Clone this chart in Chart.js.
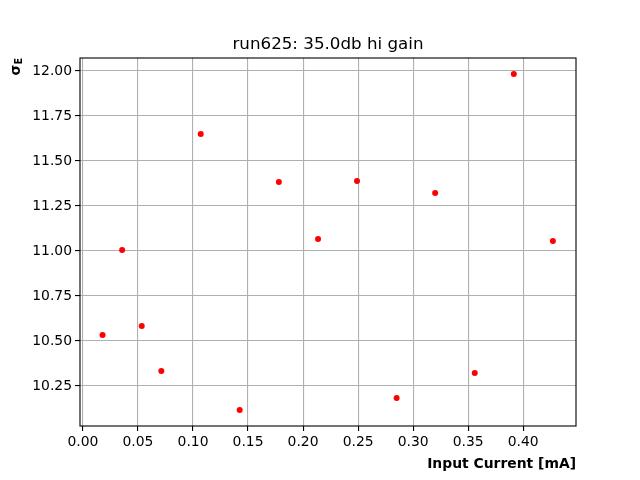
<!DOCTYPE html>
<html>
<head>
<meta charset="utf-8">
<script src="https://cdn.jsdelivr.net/npm/chart.js@4.4.0/dist/chart.umd.min.js"></script>
<style>
  html, body { margin: 0; padding: 0; background: #fff; }
  #wrap { width: 640px; height: 480px; }
</style>
</head>
<body>
<div id="wrap"><canvas id="c" width="640" height="480"></canvas></div>
<script>
const currents = [0.0178, 0.0356, 0.0534, 0.0712, 0.1070, 0.1424, 0.1780, 0.2136, 0.2490, 0.2850, 0.3200, 0.3560, 0.3915, 0.4270];
const sigmaE = [10.533, 11.006, 10.583, 10.333, 11.650, 10.117, 11.383, 11.067, 11.389, 10.183, 11.322, 10.322, 11.983, 11.056];
const xTicks = [0.00, 0.05, 0.10, 0.15, 0.20, 0.25, 0.30, 0.35, 0.40];
const yTicks = [10.25, 10.50, 10.75, 11.00, 11.25, 11.50, 11.75, 12.00];

const FONT = "'DejaVu Sans', sans-serif";

const labels = {
    id: 'labels',
    afterDraw(chart) {
        const ctx = chart.ctx;
        const a = chart.chartArea;
        ctx.save();
        ctx.fillStyle = '#000';
        // title
        ctx.font = '16.7px ' + FONT;
        ctx.textAlign = 'center';
        ctx.textBaseline = 'alphabetic';
        ctx.fillText('run625: 35.0db hi gain', (a.left + a.right) / 2, 49);
        // x label
        ctx.font = 'bold 13.9px ' + FONT;
        ctx.textAlign = 'right';
        ctx.fillText('Input Current [mA]', a.right, 468);
        // y label, rotated
        ctx.translate(20, a.top);
        ctx.rotate(-Math.PI / 2);
        ctx.textAlign = 'left';
        ctx.font = 'bold 9.7px ' + FONT;
        const wE = ctx.measureText('E').width;
        ctx.fillText('E', -wE, 2);
        ctx.font = 'bold 13.9px ' + FONT;
        const wS = ctx.measureText('σ').width;
        ctx.fillText('σ', -wE - wS, 0);
        ctx.restore();
        // frame
        ctx.save();
        ctx.strokeStyle = '#000';
        ctx.lineWidth = 1.1;
        ctx.strokeRect(a.left, a.top, a.right - a.left, a.bottom - a.top);
        ctx.restore();
    }
};

new Chart(document.getElementById('c').getContext('2d'), {
    type: 'scatter',
    data: {
        datasets: [{
            data: currents.map((x, i) => ({x: x, y: sigmaE[i]})),
            backgroundColor: '#ff0000',
            borderColor: '#ff0000',
            pointRadius: 3,
            borderWidth: 0
        }]
    },
    options: {
        responsive: false,
        animation: false,
        layout: { padding: { left: 0, right: 64, top: 58, bottom: 0 } },
        plugins: { legend: { display: false }, tooltip: { enabled: false } },
        scales: {
            x: {
                type: 'linear',
                min: -0.0027,
                max: 0.448,
                afterBuildTicks: s => { s.ticks = xTicks.map(v => ({value: v})); },
                afterFit: s => { s.height = 54; },
                grid: { color: '#b0b0b0', lineWidth: 1.1, tickLength: 5, tickColor: '#000' },
                border: { display: false },
                ticks: {
                    color: '#000',
                    font: { family: FONT, size: 13.9 },
                    padding: 3,
                    maxRotation: 0,
                    callback: v => v.toFixed(2)
                }
            },
            y: {
                min: 10.028,
                max: 12.072,
                afterBuildTicks: s => { s.ticks = yTicks.map(v => ({value: v})); },
                afterFit: s => { s.width = 80; },
                grid: { color: '#b0b0b0', lineWidth: 1.1, tickLength: 5, tickColor: '#000' },
                border: { display: false },
                ticks: {
                    color: '#000',
                    font: { family: FONT, size: 13.9 },
                    padding: 3,
                    callback: v => v.toFixed(2)
                }
            }
        }
    },
    plugins: [labels]
});
</script>
</body>
</html>
